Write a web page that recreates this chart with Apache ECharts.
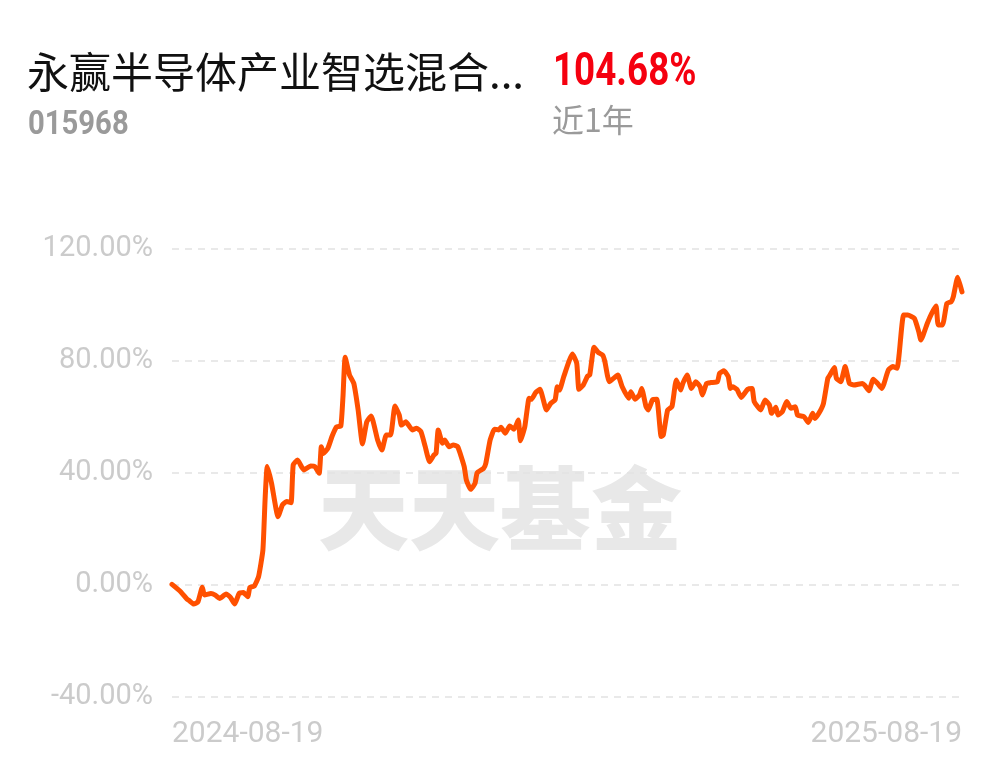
<!DOCTYPE html>
<html><head><meta charset="utf-8">
<script src="https://cdn.jsdelivr.net/npm/echarts@6/dist/echarts.min.js"></script>
<style>html,body{margin:0;padding:0;background:#fff}#c{width:1001px;height:766px}</style>
</head><body><div id="c"></div>
<script>
const fundName = '永赢半导体产业智选混合...';
const fundCode = '015968';
const periodReturn = '104.68%';
const periodLabel = '近1年';
const watermark = '天天基金';
const startDate = '2024-08-19';
const endDate = '2025-08-19';
const yTicks = [-40, 0, 40, 80, 120];

const dates = [
'2024-08-19','2024-08-23','2024-08-26','2024-08-27','2024-08-29','2024-08-31','2024-09-02','2024-09-03','2024-09-06','2024-09-08',
'2024-09-10','2024-09-13','2024-09-15','2024-09-17','2024-09-19','2024-09-21','2024-09-23','2024-09-24','2024-09-26','2024-09-28',
'2024-09-30','2024-10-01','2024-10-02','2024-10-04','2024-10-07','2024-10-09','2024-10-11','2024-10-13','2024-10-14','2024-10-16',
'2024-10-18','2024-10-19','2024-10-22','2024-10-24','2024-10-26','2024-10-27','2024-10-28','2024-10-30','2024-11-01','2024-11-03',
'2024-11-05','2024-11-06','2024-11-07','2024-11-09','2024-11-11','2024-11-13','2024-11-15','2024-11-17','2024-11-19','2024-11-22',
'2024-11-24','2024-11-26','2024-11-28','2024-11-30','2024-12-02','2024-12-03','2024-12-05','2024-12-08','2024-12-10','2024-12-12',
'2024-12-14','2024-12-16','2024-12-18','2024-12-19','2024-12-20','2024-12-22','2024-12-23','2024-12-25','2024-12-27','2024-12-29',
'2025-01-01','2025-01-02','2025-01-04','2025-01-06','2025-01-07','2025-01-10','2025-01-11','2025-01-13','2025-01-15','2025-01-17',
'2025-01-18','2025-01-20','2025-01-22','2025-01-24','2025-01-26','2025-01-27','2025-01-29','2025-01-31','2025-02-01','2025-02-03',
'2025-02-05','2025-02-08','2025-02-10','2025-02-12','2025-02-13','2025-02-14','2025-02-16','2025-02-20','2025-02-22','2025-02-23',
'2025-02-25','2025-02-27','2025-02-28','2025-03-02','2025-03-04','2025-03-06','2025-03-07','2025-03-09','2025-03-11','2025-03-13',
'2025-03-15','2025-03-18','2025-03-19','2025-03-21','2025-03-23','2025-03-24','2025-03-26','2025-03-27','2025-03-29','2025-03-31',
'2025-04-02','2025-04-03','2025-04-05','2025-04-07','2025-04-09','2025-04-11','2025-04-12','2025-04-14','2025-04-16','2025-04-18',
'2025-04-20','2025-04-21','2025-04-23','2025-04-25','2025-04-28','2025-04-29','2025-05-01','2025-05-03','2025-05-04','2025-05-05',
'2025-05-07','2025-05-09','2025-05-12','2025-05-14','2025-05-15','2025-05-18','2025-05-20','2025-05-22','2025-05-23','2025-05-25',
'2025-05-26','2025-05-28','2025-05-30','2025-06-01','2025-06-03','2025-06-04','2025-06-07','2025-06-09','2025-06-11','2025-06-12',
'2025-06-14','2025-06-16','2025-06-18','2025-06-19','2025-06-21','2025-06-22','2025-06-24','2025-06-26','2025-06-28','2025-06-30',
'2025-07-04','2025-07-05','2025-07-07','2025-07-09','2025-07-11','2025-07-13','2025-07-14','2025-07-16','2025-07-18','2025-07-20',
'2025-07-21','2025-07-23','2025-07-25','2025-07-28','2025-07-30','2025-07-31','2025-08-03','2025-08-05','2025-08-07','2025-08-08',
'2025-08-10','2025-08-12','2025-08-14','2025-08-15','2025-08-17','2025-08-19'
];

const returns = [
0.2,-2.4,-5.1,-5.6,-6.8,-6.0,-0.8,-3.6,-3.0,-3.6,
-4.8,-3.2,-4.4,-6.8,-3.0,-2.7,-4.2,-0.8,-0.4,3.0,
12.5,30.4,42.3,36.3,24.4,28.6,29.8,29.4,42.9,44.6,
42.0,41.1,42.5,42.3,39.9,49.4,47.0,48.8,53.2,56.5,
56.8,67.3,81.3,75.0,72.0,62.5,50.4,58.3,60.4,51.8,
48.2,53.6,53.6,63.9,60.7,57.1,58.3,55.4,56.0,54.8,
49.4,44.0,46.4,47.0,55.4,50.6,51.8,49.4,50.0,49.4,
42.3,37.5,34.2,36.3,40.1,41.7,43.5,51.8,55.6,55.4,
56.3,54.2,56.8,55.6,58.9,51.5,56.5,66.7,66.3,68.7,
69.9,62.5,64.9,66.1,70.8,69.6,74.4,82.5,79.2,69.9,
71.4,74.6,75.0,84.9,83.0,82.1,79.8,72.6,73.8,75.0,
70.8,66.7,69.0,66.3,67.9,70.2,63.7,62.5,66.1,66.3,
53.0,53.6,62.5,63.7,73.2,69.6,72.0,75.0,70.2,72.6,
70.8,67.9,72.0,72.3,72.6,75.6,76.5,74.4,70.2,70.8,
69.9,67.0,69.9,70.2,65.5,62.5,66.1,64.3,61.3,63.5,
60.7,61.9,65.5,63.1,63.7,60.7,60.1,58.0,61.3,59.5,
61.5,64.9,73.8,75.0,77.7,73.8,72.6,78.0,72.0,71.4,
72.0,71.4,69.4,73.5,72.0,70.2,72.0,76.8,78.0,77.4,
82.7,96.4,96.4,95.2,90.5,87.5,93.5,97.0,99.6,92.9,
92.9,100.6,101.2,103.0,109.9,104.68
];

const DAY = 86400000;
const t0 = Date.parse(startDate);
const dayOf = d => Math.round((Date.parse(d) - t0) / DAY);
const seriesData = dates.map((d, i) => [dayOf(d), returns[i]]);
const lastDay = dayOf(endDate);

const chart = echarts.init(document.getElementById('c'), null, {renderer: 'canvas'});
const axisFont = 'Roboto, "Noto Sans", sans-serif';
chart.setOption({
  animation: false,
  backgroundColor: '#ffffff',
  grid: {left: 172, right: 39, top: 249, bottom: 69},
  xAxis: {
    type: 'value', min: 0, max: lastDay, interval: lastDay,
    axisLine: {show: false}, axisTick: {show: false}, splitLine: {show: false},
    axisLabel: {
      color: '#cbcbcb', fontSize: 30, fontFamily: axisFont, margin: 22,
      alignMinLabel: 'left', alignMaxLabel: 'right',
      formatter: v => v === 0 ? startDate : (v === lastDay ? endDate : '')
    }
  },
  yAxis: {
    type: 'value', min: yTicks[0], max: yTicks[yTicks.length - 1], interval: yTicks[1] - yTicks[0],
    axisLine: {show: false}, axisTick: {show: false},
    axisLabel: {color: '#cbcbcb', fontSize: 29, fontFamily: axisFont, margin: 19,
      formatter: v => v.toFixed(2) + '%'},
    splitLine: {show: true, lineStyle: {color: '#e2e2e2', width: 1.5, type: [7, 6]}}
  },
  graphic: [
    {type: 'text', left: 27, top: 51, z: 10,
      style: {text: fundName, fill: '#111111', font: '400 42px "Noto Sans CJK SC", sans-serif'}},
    {type: 'text', x: 553, y: 50, scaleX: 0.8, z: 10,
      style: {text: periodReturn, fill: '#f5000f', font: 'bold 46px Roboto, "Noto Sans", sans-serif'}},
    {type: 'text', x: 28, y: 108, scaleX: 0.86, z: 10,
      style: {text: fundCode, fill: '#9a9a9a', font: 'bold 34px Roboto, "Noto Sans", sans-serif'}},
    {type: 'text', left: 552, top: 104, z: 10,
      style: {text: periodLabel, fill: '#9a9a9a', font: '400 32px "Noto Sans CJK SC", sans-serif'}},
    {type: 'text', left: 318, top: 463, z: -10,
      style: {text: watermark, fill: '#e8e8e8', font: '900 91px "Noto Sans CJK SC", sans-serif'}}
  ],
  series: [{
    type: 'line', data: seriesData, showSymbol: false, smooth: 0.15, z: 5,
    lineStyle: {color: '#ff5000', width: 5, join: 'round', cap: 'round'}
  }]
});
</script></body></html>
